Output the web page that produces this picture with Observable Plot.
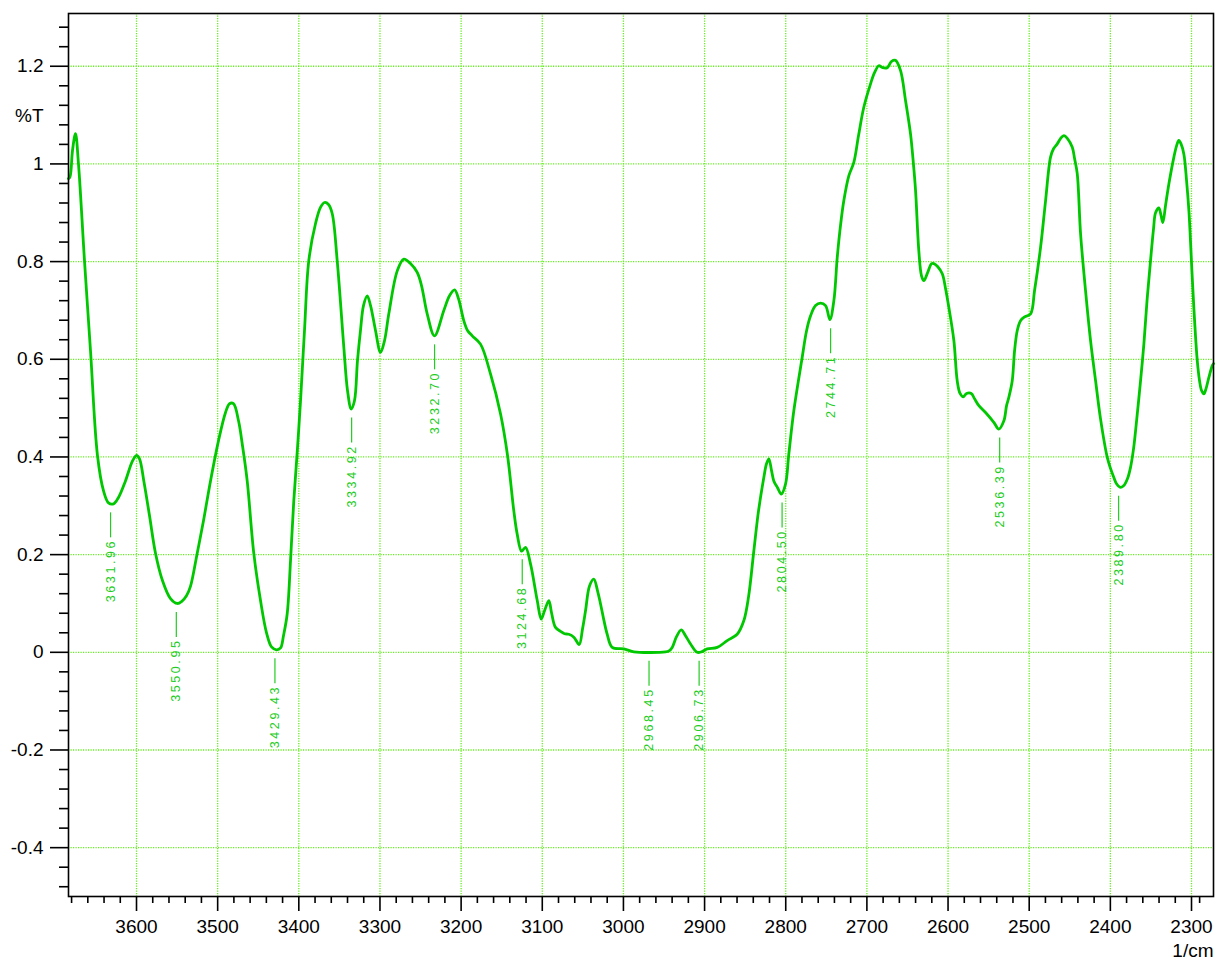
<!DOCTYPE html>
<html><head><meta charset="utf-8">
<script src="https://cdn.jsdelivr.net/npm/d3@7"></script>
<script src="https://cdn.jsdelivr.net/npm/@observablehq/plot@0.6"></script>
<style>html,body{margin:0;padding:0;background:#fff;} #chart{width:1222px;height:962px;}</style>
</head><body><div id="chart"></div>
<script>
// Spectrum (wavenumber in 1/cm, transmittance %T)
const wavenumber = [3683.8,3681.9,3678.9,3675.2,3671.5,3664.1,3656.7,3648.1,3640.7,3634.5,3628.3,3622.2,3613.6,3604.9,3600.0,3596.3,3591.0,3584.0,3576.6,3568.0,3558.1,3549.8,3544.5,3538.4,3533.5,3525.2,3517.4,3508.8,3499.0,3490.3,3485.4,3480.5,3474.3,3469.4,3463.6,3455.5,3447.2,3439.8,3433.6,3427.5,3422.5,3418.9,3414.3,3410.2,3406.2,3401.6,3397.9,3393.0,3387.7,3379.4,3373.3,3368.3,3363.4,3358.8,3352.7,3344.5,3340.0,3335.4,3331.4,3327.7,3324.0,3320.3,3315.7,3311.6,3305.5,3299.3,3294.4,3289.1,3278.7,3270.6,3262.4,3254.1,3248.8,3241.8,3232.8,3221.3,3214.3,3208.1,3203.2,3196.7,3192.1,3186.3,3176.1,3163.8,3151.4,3142.8,3135.1,3130.9,3125.5,3120.6,3114.5,3106.2,3101.3,3097.2,3091.9,3088.6,3083.7,3077.5,3072.6,3067.3,3061.1,3054.5,3050.4,3046.7,3041.8,3036.5,3031.9,3028.2,3024.5,3020.0,3013.8,2999.5,2987.2,2948.1,2943.8,2939.9,2934.6,2928.8,2923.5,2917.3,2909.1,2903.8,2896.7,2884.4,2872.1,2859.8,2851.6,2845.8,2839.3,2833.5,2827.0,2823.7,2820.8,2817.5,2814.7,2810.1,2805.5,2800.2,2796.2,2790.0,2779.7,2774.4,2769.4,2763.3,2757.1,2750.9,2745.6,2740.7,2736.5,2732.5,2728.4,2722.2,2716.1,2710.3,2703.8,2695.5,2690.6,2685.3,2680.7,2674.9,2669.6,2664.7,2658.5,2652.4,2646.2,2642.5,2640.0,2636.0,2632.7,2629.8,2625.3,2620.3,2617.5,2612.9,2607.1,2603.1,2599.0,2592.8,2588.7,2585.2,2581.3,2577.2,2571.4,2567.3,2562.0,2553.8,2543.6,2537.4,2531.2,2527.9,2525.1,2520.9,2518.0,2514.7,2510.7,2506.6,2498.3,2493.4,2486.0,2479.8,2473.7,2470.0,2465.4,2461.4,2457.3,2452.8,2446.9,2444.1,2440.8,2436.7,2430.6,2424.4,2418.2,2412.1,2403.8,2399.7,2395.7,2392.4,2388.3,2383.7,2378.8,2375.1,2371.4,2368.9,2362.8,2358.7,2354.8,2350.5,2346.8,2344.3,2340.2,2337.5,2335.3,2332.0,2327.9,2321.7,2318.4,2315.6,2312.9,2309.4,2306.1,2303.2,2299.1,2296.2,2292.9,2290.1,2287.6,2284.8,2282.1,2278.6,2274.4,2272.9];
const transmittance = [0.970,0.974,1.027,1.062,1.000,0.802,0.618,0.403,0.331,0.306,0.304,0.317,0.351,0.392,0.403,0.396,0.351,0.280,0.203,0.147,0.110,0.100,0.104,0.116,0.135,0.203,0.270,0.351,0.433,0.491,0.509,0.509,0.474,0.423,0.351,0.203,0.106,0.040,0.011,0.005,0.009,0.034,0.079,0.188,0.310,0.419,0.515,0.659,0.802,0.878,0.911,0.921,0.917,0.898,0.802,0.624,0.536,0.498,0.515,0.597,0.659,0.710,0.730,0.710,0.659,0.614,0.638,0.693,0.781,0.805,0.796,0.778,0.751,0.693,0.648,0.700,0.730,0.742,0.724,0.679,0.659,0.648,0.631,0.570,0.488,0.403,0.290,0.242,0.207,0.215,0.181,0.106,0.068,0.085,0.106,0.081,0.051,0.043,0.038,0.037,0.031,0.016,0.048,0.085,0.136,0.150,0.126,0.099,0.069,0.037,0.010,0.007,0.001,0.001,0.003,0.010,0.032,0.046,0.034,0.017,0.000,0.001,0.007,0.010,0.024,0.037,0.065,0.114,0.208,0.290,0.358,0.386,0.396,0.372,0.351,0.337,0.324,0.345,0.406,0.495,0.604,0.658,0.689,0.710,0.715,0.710,0.681,0.720,0.809,0.874,0.925,0.976,1.003,1.058,1.116,1.164,1.187,1.201,1.197,1.197,1.210,1.212,1.191,1.130,1.061,0.997,0.945,0.822,0.771,0.761,0.777,0.796,0.796,0.790,0.775,0.745,0.706,0.638,0.556,0.530,0.523,0.530,0.530,0.519,0.505,0.491,0.471,0.457,0.474,0.505,0.522,0.556,0.618,0.659,0.679,0.686,0.693,0.741,0.829,0.925,1.014,1.031,1.041,1.052,1.058,1.052,1.034,1.011,0.980,0.857,0.741,0.638,0.556,0.478,0.399,0.376,0.358,0.345,0.338,0.341,0.356,0.379,0.417,0.454,0.556,0.631,0.720,0.802,0.867,0.900,0.910,0.894,0.880,0.915,0.959,1.014,1.037,1.048,1.041,1.020,0.966,0.904,0.768,0.679,0.597,0.556,0.536,0.529,0.540,0.563,0.587,0.591];

// Peak annotations
const peakWavenumbers = [3631.96,3550.95,3429.43,3334.92,3232.70,3124.68,2968.45,2906.73,2804.50,2744.71,2536.39,2389.80];
const peakLabels = ["3631.96","3550.95","3429.43","3334.92","3232.70","3124.68","2968.45","2906.73","2804.50","2744.71","2536.39","2389.80"];
const peakValues = [0.304,0.100,0.005,0.498,0.648,0.208,0.000,0.000,0.324,0.681,0.457,0.338];

// Axes
const xMajorTicks = [3600,3500,3400,3300,3200,3100,3000,2900,2800,2700,2600,2500,2400,2300];
const xMinorTicks = d3.range(3680, 2299, -20).filter(v => v % 100 !== 0).concat([2290]);
const yMajorTicks = [-0.4,-0.2,0,0.2,0.4,0.6,0.8,1,1.2];
const yMinorTicks = d3.range(-12, 33).map(i => +(i * 0.04).toFixed(2)).filter(v => Math.abs(Math.round(v * 5) - v * 5) > 1e-6);
const xAxisLabel = "1/cm";
const yAxisLabel = "%T";

const spectrum = wavenumber.map((w, i) => ({wn: w, t: transmittance[i]}));
const peaks = peakWavenumbers.map((w, i) => ({wn: w, v: peakValues[i], label: peakLabels[i]}));

const gridColor = "#66ee22";
const lineColor = "#00c800";
const labelColor = "#22cc22";
const yFmt = d => String(+d.toFixed(1));

const chart = Plot.plot({
  width: 1222, height: 962,
  marginLeft: 68, marginRight: 9, marginTop: 13, marginBottom: 66,
  style: {fontFamily: "'Liberation Sans', Arial, sans-serif", background: "#fff", color: "#000", overflow: "visible"},
  x: {domain: [3683.8, 2272.9]},
  y: {domain: [-0.5, 1.308]},
  marks: [
    Plot.ruleX(xMajorTicks, {stroke: gridColor, strokeDasharray: "1.2,1.3", strokeWidth: 1.3}),
    Plot.ruleY(yMajorTicks, {stroke: gridColor, strokeDasharray: "1.2,1.3", strokeWidth: 1.3}),
    Plot.line(spectrum, {x: "wn", y: "t", stroke: lineColor, strokeWidth: 2.8, curve: "catmull-rom"}),
    Plot.ruleX(peaks, {x: "wn", y1: "v", y2: d => d.v - 0.0512, dy: 9, stroke: labelColor, strokeWidth: 1.2}),
    Plot.text(peaks, {x: "wn", y: "v", text: "label", rotate: -90, textAnchor: "end", dy: 35, fill: labelColor, fontSize: 12.5}),
    Plot.frame({stroke: "#000", strokeWidth: 1.6}),
    Plot.axisX({ticks: xMajorTicks, tickSize: 15, tickPadding: 8, tickFormat: d => String(d), fontSize: 19, strokeWidth: 1.6, label: null}),
    Plot.axisX({ticks: xMinorTicks, tickSize: 7, tickFormat: () => "", strokeWidth: 1.6, label: null}),
    Plot.axisY({ticks: yMajorTicks, tickSize: 18, tickPadding: 7, tickFormat: yFmt, fontSize: 19, strokeWidth: 1.6, label: null}),
    Plot.axisY({ticks: yMinorTicks, tickSize: 9, tickFormat: () => "", strokeWidth: 1.6, label: null}),
    Plot.text([yAxisLabel], {frameAnchor: "top-left", lineAnchor: "middle", dx: -25, dy: 102, textAnchor: "end", fontSize: 19, fill: "#000"}),
    Plot.text([xAxisLabel], {frameAnchor: "bottom-right", lineAnchor: "middle", dx: 0, dy: 54, textAnchor: "end", fontSize: 19, fill: "#000"})
  ]
});
// widen the spacing of the peak annotation digits, as in the reference
d3.select(chart).selectAll("text")
  .filter(function () { return peakLabels.includes(this.textContent); })
  .attr("letter-spacing", "2.6px");
document.getElementById("chart").appendChild(chart);
</script>
</body></html>
